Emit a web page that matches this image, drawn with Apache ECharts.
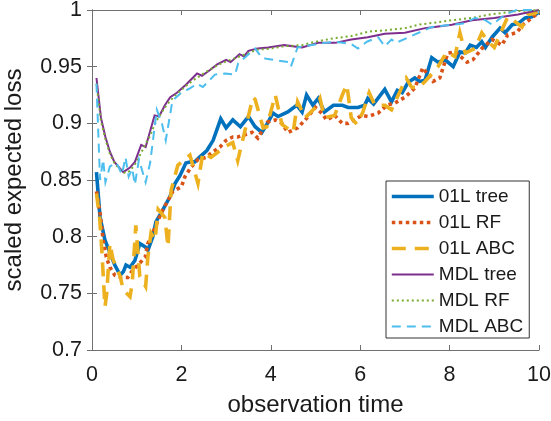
<!DOCTYPE html>
<html>
<head>
<meta charset="utf-8">
<script src="https://cdn.jsdelivr.net/npm/echarts@6/dist/echarts.min.js"></script>
<style>
html,body{margin:0;padding:0;background:#fff;}
#chart{width:551px;height:421px;}
</style>
</head>
<body>
<div id="chart"></div>
<script>
// ---- data ----
const xTicks = [0, 2, 4, 6, 8, 10];
const yTicks = [0.7, 0.75, 0.8, 0.85, 0.9, 0.95, 1];
const seriesNames = ['01L tree', '01L RF', '01L ABC', 'MDL tree', 'MDL RF', 'MDL ABC'];

const tree01X = [0.1,0.18,0.29,0.4,0.51,0.63,0.7,0.76,0.85,0.96,1.07,1.19,1.25,1.36,1.43,1.59,1.74,1.86,1.97,2.1,2.21,2.3,2.4,2.57,2.71,2.88,3.0,3.15,3.32,3.5,3.65,3.8,3.94,4.05,4.16,4.38,4.58,4.7,4.8,4.94,5.06,5.2,5.4,5.6,5.73,5.95,6.1,6.17,6.3,6.55,6.7,6.83,6.94,7.07,7.22,7.33,7.45,7.6,7.74,7.9,8.08,8.23,8.35,8.46,8.6,8.72,8.8,8.95,9.13,9.24,9.4,9.53,9.69,9.84,10.0];
const tree01Y = [0.857,0.817,0.797,0.786,0.775,0.766,0.769,0.775,0.773,0.779,0.794,0.791,0.788,0.800,0.813,0.824,0.835,0.847,0.854,0.865,0.866,0.866,0.870,0.876,0.885,0.904,0.896,0.903,0.897,0.906,0.897,0.892,0.901,0.909,0.906,0.910,0.916,0.910,0.925,0.916,0.922,0.910,0.916,0.916,0.914,0.914,0.916,0.922,0.917,0.930,0.919,0.929,0.927,0.936,0.940,0.937,0.938,0.958,0.954,0.956,0.950,0.963,0.962,0.969,0.967,0.972,0.967,0.976,0.984,0.980,0.987,0.988,0.993,0.994,0.998];

const rf01X = [0.1,0.18,0.25,0.32,0.4,0.51,0.65,0.8,0.92,1.03,1.19,1.25,1.41,1.55,1.7,1.81,2.0,2.08,2.21,2.37,2.55,2.71,2.86,3.0,3.15,3.26,3.42,3.58,3.71,3.92,4.1,4.25,4.38,4.6,4.77,5.0,5.14,5.25,5.43,5.6,5.73,6.04,6.17,6.4,6.6,6.78,7.0,7.22,7.4,7.63,7.78,7.96,8.12,8.39,8.52,8.72,8.95,9.17,9.3,9.5,9.64,9.84,10.0];
const rf01Y = [0.840,0.821,0.797,0.782,0.773,0.766,0.764,0.764,0.771,0.775,0.782,0.794,0.808,0.821,0.832,0.840,0.844,0.853,0.861,0.868,0.870,0.875,0.879,0.885,0.888,0.888,0.890,0.892,0.887,0.901,0.903,0.900,0.892,0.896,0.903,0.914,0.909,0.903,0.907,0.900,0.900,0.907,0.906,0.909,0.916,0.918,0.923,0.931,0.949,0.937,0.940,0.962,0.963,0.954,0.956,0.966,0.974,0.969,0.978,0.980,0.987,0.993,0.998];

const abc01X = [0.1,0.17,0.22,0.29,0.33,0.4,0.47,0.63,0.7,0.85,0.9,0.98,1.07,1.2,1.25,1.32,1.41,1.48,1.63,1.7,1.77,1.92,2.19,2.37,2.48,2.66,3.0,3.15,3.26,3.6,3.65,3.83,3.91,4.1,4.25,4.5,4.6,4.77,5.0,5.1,5.2,5.43,5.6,5.7,5.8,5.93,6.06,6.2,6.33,6.55,6.7,7.03,7.15,7.3,7.45,7.74,7.94,8.12,8.23,8.35,8.57,8.72,8.86,9.0,9.3,9.42,9.62,9.75,9.9,10.0];
const abc01Y = [0.838,0.817,0.788,0.738,0.750,0.794,0.780,0.765,0.753,0.747,0.759,0.810,0.765,0.756,0.782,0.803,0.797,0.824,0.817,0.791,0.841,0.863,0.872,0.847,0.874,0.870,0.880,0.883,0.867,0.923,0.921,0.896,0.897,0.925,0.899,0.892,0.919,0.905,0.914,0.922,0.905,0.907,0.925,0.934,0.905,0.899,0.910,0.927,0.916,0.916,0.912,0.940,0.932,0.931,0.937,0.950,0.963,0.959,0.980,0.962,0.966,0.980,0.972,0.967,0.994,0.991,0.985,0.996,0.997,0.999];

const treeMX = [0.1,0.2,0.3,0.4,0.5,0.63,0.7,0.85,0.96,1.1,1.2,1.3,1.4,1.5,1.63,1.75,1.9,2.1,2.2,2.35,2.46,2.64,2.8,3.0,3.1,3.3,3.4,3.5,3.7,3.94,4.3,4.7,5.06,5.44,5.8,6.17,6.55,7.0,7.45,8.05,8.5,9.0,9.53,10.0];
const treeMY = [0.940,0.905,0.888,0.875,0.866,0.860,0.857,0.861,0.866,0.881,0.879,0.893,0.907,0.906,0.916,0.923,0.927,0.934,0.938,0.944,0.942,0.947,0.952,0.956,0.954,0.961,0.959,0.964,0.966,0.967,0.969,0.967,0.971,0.971,0.974,0.976,0.979,0.980,0.984,0.987,0.991,0.993,0.996,1.000];

const rfMX = [0.1,0.2,0.3,0.4,0.5,0.63,0.75,0.85,1.0,1.1,1.2,1.3,1.4,1.5,1.63,1.75,1.9,2.1,2.3,2.5,2.7,2.9,3.1,3.3,3.5,3.7,4.0,4.3,4.7,5.0,5.4,5.8,6.2,6.55,7.0,7.3,7.7,8.05,8.5,8.9,9.5,10.0];
const rfMY = [0.935,0.902,0.886,0.873,0.865,0.859,0.856,0.858,0.866,0.874,0.882,0.889,0.899,0.906,0.914,0.920,0.926,0.933,0.939,0.944,0.949,0.953,0.956,0.959,0.962,0.965,0.966,0.968,0.969,0.972,0.975,0.977,0.981,0.982,0.984,0.987,0.989,0.991,0.993,0.996,0.999,1.000];

const abcMX = [0.1,0.18,0.25,0.3,0.4,0.55,0.67,0.75,0.82,0.9,0.96,1.05,1.2,1.3,1.45,1.57,1.65,1.8,2.0,2.2,2.35,2.48,2.75,2.98,3.2,3.27,3.65,3.8,3.9,4.4,4.45,4.6,5.2,5.45,5.8,5.95,6.15,6.4,6.55,6.7,6.8,7.6,8.3,8.57,8.8,8.95,9.24,9.5,9.85,10.0];
const abcMY = [0.935,0.850,0.868,0.848,0.862,0.865,0.855,0.870,0.853,0.860,0.846,0.868,0.848,0.865,0.912,0.899,0.885,0.920,0.927,0.931,0.935,0.932,0.943,0.944,0.943,0.953,0.966,0.958,0.957,0.954,0.950,0.967,0.971,0.972,0.970,0.966,0.972,0.976,0.968,0.974,0.971,0.985,0.988,0.993,0.991,0.987,0.996,1.000,1.000,0.998];

// ---- build ----
const zip = (xs, ys) => xs.map((x, i) => [x, ys[i]]);
const FONT = '"Liberation Sans", Arial, Helvetica, sans-serif';
const axisColor = '#707070';

const styles = [
  {color:'#0072BD', width:3.6, type:'solid'},
  {color:'#D95319', width:3.6, type:[3.5,3.5]},
  {color:'#EDB120', width:3.6, type:[14,9]},
  {color:'#7E2F8E', width:2, type:'solid'},
  {color:'#77AC30', width:2, type:[2,3]},
  {color:'#4DBEEE', width:2, type:[9,6]}
];
const datasets = [zip(tree01X,tree01Y), zip(rf01X,rf01Y), zip(abc01X,abc01Y), zip(treeMX,treeMY), zip(rfMX,rfMY), zip(abcMX,abcMY)];

const series = datasets.map((d, i) => ({
  name: seriesNames[i],
  type: 'line',
  data: d,
  showSymbol: false,
  symbol: 'none',
  animation: false,
  lineStyle: {color: styles[i].color, width: styles[i].width, type: styles[i].type, cap: 'butt', join: 'miter'},
  itemStyle: {color: styles[i].color},
  emphasis: {disabled: true}
}));

const chart = echarts.init(document.getElementById('chart'), null, {renderer: 'canvas'});
const baseX = {
  type: 'value', min: xTicks[0], max: xTicks[xTicks.length-1], interval: xTicks[1]-xTicks[0],
  splitLine: {show: false},
  axisLine: {show: true, lineStyle: {color: axisColor, width: 1}},
  axisTick: {show: true, inside: true, length: 5, lineStyle: {color: axisColor}}
};
const baseY = {
  type: 'value', min: yTicks[0], max: yTicks[yTicks.length-1], interval: 0.05,
  splitLine: {show: false},
  axisLine: {show: true, lineStyle: {color: axisColor, width: 1}},
  axisTick: {show: true, inside: true, length: 5, lineStyle: {color: axisColor}}
};
chart.setOption({
  animation: false,
  backgroundColor: '#ffffff',
  grid: {left: 92, right: 12, top: 10, bottom: 71, containLabel: false, outerBoundsMode: 'none'},
  xAxis: [
    Object.assign({}, baseX, {
      position: 'bottom',
      name: 'observation time', nameLocation: 'middle', nameGap: 43,
      nameTextStyle: {fontFamily: FONT, fontSize: 24, color: '#1a1a1a'},
      axisLabel: {show: true, margin: 14, fontFamily: FONT, fontSize: 21.5, color: '#1a1a1a'}
    }),
    Object.assign({}, baseX, {position: 'top', axisLabel: {show: false}})
  ],
  yAxis: [
    Object.assign({}, baseY, {
      position: 'left',
      name: 'scaled expected loss', nameLocation: 'middle', nameGap: 66,
      nameTextStyle: {fontFamily: FONT, fontSize: 24, color: '#1a1a1a'},
      axisLabel: {show: true, margin: 10, fontFamily: FONT, fontSize: 21.5, color: '#1a1a1a',
        formatter: v => String(Math.round(v*100)/100)}
    }),
    Object.assign({}, baseY, {position: 'right', axisLabel: {show: false}})
  ],
  legend: {
    show: true,
    data: seriesNames,
    orient: 'vertical',
    left: 386, top: 181,
    padding: [6, 6, 2, 4],
    itemWidth: 42, itemHeight: 14, itemGap: 7,
    backgroundColor: '#ffffff',
    borderColor: '#333333', borderWidth: 1,
    selectedMode: false,
    itemStyle: {opacity: 0},
    lineStyle: {width: 'inherit', type: 'inherit'},
    textStyle: {fontFamily: FONT, fontSize: 19, color: '#1a1a1a'}
  },
  series: series
});
</script>
</body>
</html>
